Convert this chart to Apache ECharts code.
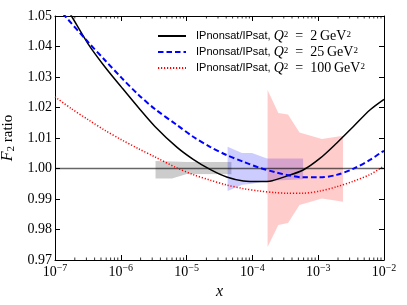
<!DOCTYPE html>
<html>
<head>
<meta charset="utf-8">
<script src="https://cdn.jsdelivr.net/npm/echarts@6/dist/echarts.min.js"></script>
<style>html,body{margin:0;padding:0;background:#fff}#c{width:407px;height:305px}</style>
</head>
<body>
<div id="c"></div>
<script>
// ---- data ----
const blackX = [1.26e-7, 1.78e-7, 3.2e-7, 5.75e-7, 1.03e-6, 1.85e-6, 3.3e-6, 7.1e-6, 1.26e-5, 2.27e-5, 4.06e-5, 7.3e-5, 1.3e-4, 2.0e-4, 3.3e-4, 5.9e-4, 1.06e-3, 1.9e-3, 3.4e-3, 6.1e-3, 1e-2];
const blackY = [1.0553, 1.0500, 1.0408, 1.0333, 1.0266, 1.0200, 1.0138, 1.0070, 1.0030, 0.9997, 0.9972, 0.9959, 0.9957, 0.9960, 0.9975, 0.9995, 1.0033, 1.0083, 1.0137, 1.0192, 1.0227];
const blueX = [1.1e-7, 1.42e-7, 3.2e-7, 5.75e-7, 1.03e-6, 1.85e-6, 3.3e-6, 7.1e-6, 1.26e-5, 2.27e-5, 4.06e-5, 7.3e-5, 1.3e-4, 2.2e-4, 3.3e-4, 5.9e-4, 1.06e-3, 1.9e-3, 3.4e-3, 6.1e-3, 8.7e-3, 1e-2];
const blueY = [1.0530, 1.0500, 1.0414, 1.0355, 1.0297, 1.0242, 1.0195, 1.0143, 1.0104, 1.0071, 1.0044, 1.0022, 1.0002, 0.9988, 0.9979, 0.9971, 0.9971, 0.9979, 0.9999, 1.0028, 1.0050, 1.0058];
const redX = [1e-7, 1.78e-7, 3.2e-7, 5.75e-7, 1.03e-6, 1.85e-6, 3.3e-6, 7.1e-6, 1.26e-5, 2.27e-5, 4.06e-5, 7.3e-5, 1.3e-4, 2.2e-4, 3.3e-4, 5.9e-4, 1.06e-3, 1.9e-3, 3.4e-3, 6.1e-3, 8.7e-3, 1e-2];
const redY = [1.0235, 1.0196, 1.0160, 1.0125, 1.0094, 1.0065, 1.0038, 1.0002, 0.9980, 0.9962, 0.9946, 0.9934, 0.9926, 0.9921, 0.9919, 0.9919, 0.9926, 0.9940, 0.9958, 0.9980, 1.0000, 1.0008];

const grayBandX = [3.37e-6, 6.0e-6, 1.01e-5, 4.8e-5];
const grayBandLo = [0.9967, 0.9967, 0.9982, 0.9981];
const grayBandHi = [1.0025, 1.0023, 1.0021, 1.0021];
const blueBandX = [4.2e-5, 6.95e-5, 9.86e-5, 1.67e-4, 5.9e-4];
const blueBandLo = [0.9926, 0.9947, 0.9950, 0.9959, 0.9965];
const blueBandHi = [1.0071, 1.0051, 1.0051, 1.0033, 1.0033];
const redBandX = [1.70e-4, 2.48e-4, 3.48e-4, 5.2e-4, 1.14e-3, 2.38e-3];
const redBandLo = [0.9743, 0.9815, 0.9821, 0.9880, 0.9902, 0.9891];
const redBandHi = [1.0257, 1.0182, 1.0177, 1.0118, 1.0097, 1.0107];

const refX = [1e-7, 1e-2];
const refY = [1.0, 1.0];

const seriesNames = ['IPnonsat/IPsat, Q^2 = 2 GeV^2', 'IPnonsat/IPsat, Q^2 = 25 GeV^2', 'IPnonsat/IPsat, Q^2 = 100 GeV^2'];
const qValues = ['2', '25', '100'];
const minorTicks = [];
[1e-7, 1e-6, 1e-5, 1e-4, 1e-3].forEach(d => { [2,3,4,5,6,7,8,9].forEach(m => minorTicks.push(+(m * d).toPrecision(3))); });

const X_MIN = 1e-7, X_MAX = 1e-2, Y_MIN = 0.97, Y_MAX = 1.05;
const SERIF = '"Liberation Serif", "DejaVu Serif", serif';

function zip(xs, ys) { return xs.map((x, i) => [x, ys[i]]); }

function band(xs, lo, hi, color) {
  return {
    type: 'custom', silent: true, z: 1, clip: true,
    data: xs.map((x, i) => [x, lo[i], hi[i]]),
    encode: { x: 0, y: [1, 2] },
    renderItem: function (params, api) {
      if (params.dataIndex !== 0) return;
      const pts = [];
      for (let i = 0; i < xs.length; i++) pts.push(api.coord([xs[i], lo[i]]));
      for (let i = xs.length - 1; i >= 0; i--) pts.push(api.coord([xs[i], hi[i]]));
      return { type: 'polygon', shape: { points: pts }, style: { fill: color } };
    }
  };
}

const chart = echarts.init(document.getElementById('c'), null, { renderer: 'canvas' });

const axisCommon = {
  axisLine: { show: true, onZero: false, lineStyle: { color: '#000', width: 1 } },
  axisTick: { show: true, inside: true, length: 5, lineStyle: { color: '#000', width: 1 } },
  splitLine: { show: false }
};

chart.setOption({
  animation: false,
  backgroundColor: '#fff',
  grid: { left: 55, right: 23, top: 16, bottom: 45, containLabel: false, outerBoundsMode: 'none' },
  legend: {
    data: seriesNames,
    orient: 'vertical',
    left: 157, top: 29, padding: 0,
    itemWidth: 28, itemHeight: 10, itemGap: 2,
    itemStyle: { opacity: 0 },
    formatter: function (name) {
      const q = qValues[seriesNames.indexOf(name)];
      return '{a|IPnonsat/IPsat, }{q|Q}{s|2}{m|\u2002=\u2002' + q + '\u2009GeV}{s|2}';
    },
    textStyle: {
      padding: [0, 0, 0, 5],
      rich: {
        a: { fontFamily: '"Liberation Sans", Arial, sans-serif', fontSize: 11, color: '#000', lineHeight: 12 },
        q: { fontFamily: SERIF, fontStyle: 'italic', fontSize: 14, color: '#000', lineHeight: 12 },
        m: { fontFamily: SERIF, fontSize: 14, color: '#000', lineHeight: 12 },
        s: { fontFamily: SERIF, fontSize: 9, color: '#000', lineHeight: 8, verticalAlign: 'top' }
      }
    }
  },
  xAxis: [
    Object.assign({}, axisCommon, {
      type: 'log', logBase: 10, min: X_MIN, max: X_MAX, splitNumber: 5, position: 'bottom',
      name: 'x', nameLocation: 'middle', nameGap: 17,
      nameTextStyle: { fontFamily: SERIF, fontStyle: 'italic', fontSize: 16, color: '#000' },
      axisLabel: {
        margin: 3,
        formatter: function (v) { const e = Math.round(Math.log10(v)); return '{b|10}{s|' + (e < 0 ? '\u2212' : '') + Math.abs(e) + '}'; },
        rich: {
          b: { fontFamily: SERIF, fontSize: 14, color: '#000', lineHeight: 18 },
          s: { fontFamily: SERIF, fontSize: 10, color: '#000', lineHeight: 10, verticalAlign: 'top' }
        }
      }
    }),
    Object.assign({}, axisCommon, {
      type: 'log', logBase: 10, min: X_MIN, max: X_MAX, splitNumber: 5, position: 'top',
      axisLabel: { show: false }
    })
  ],
  yAxis: [
    Object.assign({}, axisCommon, {
      type: 'value', min: Y_MIN, max: Y_MAX, interval: 0.01, position: 'left',
      name: '{i|F}{sub|2}{r| ratio}', nameLocation: 'middle', nameGap: 35, nameRotate: 90,
      nameTextStyle: {
        rich: {
          i: { fontFamily: SERIF, fontStyle: 'italic', fontSize: 16, color: '#000', lineHeight: 18 },
          sub: { fontFamily: SERIF, fontSize: 11, color: '#000', lineHeight: 12, verticalAlign: 'bottom' },
          r: { fontFamily: SERIF, fontSize: 15, color: '#000', lineHeight: 18 }
        }
      },
      axisLabel: { margin: 3, fontFamily: SERIF, fontSize: 14, color: '#000', formatter: v => v.toFixed(2) }
    }),
    Object.assign({}, axisCommon, {
      type: 'value', min: Y_MIN, max: Y_MAX, interval: 0.01, position: 'right',
      axisLabel: { show: false }
    })
  ],
  series: [
    band(grayBandX, grayBandLo, grayBandHi, 'rgba(0,0,0,0.2)'),
    band(blueBandX, blueBandLo, blueBandHi, 'rgba(0,0,255,0.2)'),
    band(redBandX, redBandLo, redBandHi, 'rgba(255,0,0,0.2)'),
    {
      type: 'line', name: 'ref', data: zip(refX, refY), symbol: 'none', silent: true, z: 2,
      lineStyle: { color: 'rgba(0,0,0,0.6)', width: 1.5 }
    },
    {
      type: 'custom', silent: true, z: 4, clip: false,
      data: minorTicks.map(v => [v, Y_MIN]),
      encode: { x: 0, y: 1 },
      renderItem: function (params, api) {
        const v = api.value(0);
        const b = api.coord([v, Y_MIN]);
        const t = api.coord([v, Y_MAX]);
        return { type: 'group', children: [
          { type: 'line', shape: { x1: b[0], y1: b[1], x2: b[0], y2: b[1] - 2.5 }, style: { stroke: '#000', lineWidth: 0.8 } },
          { type: 'line', shape: { x1: t[0], y1: t[1], x2: t[0], y2: t[1] + 2.5 }, style: { stroke: '#000', lineWidth: 0.8 } }
        ] };
      }
    },
    {
      type: 'line', name: seriesNames[0], data: zip(blackX, blackY), symbol: 'none', smooth: 0.3, z: 3, clip: true,
      itemStyle: { color: '#000' }, lineStyle: { color: '#000', width: 1.5, type: 'solid' }
    },
    {
      type: 'line', name: seriesNames[1], data: zip(blueX, blueY), symbol: 'none', smooth: 0.3, z: 3, clip: true,
      itemStyle: { color: '#0000ff' }, lineStyle: { color: '#0000ff', width: 2, type: [5.5, 3] }
    },
    {
      type: 'line', name: seriesNames[2], data: zip(redX, redY), symbol: 'none', smooth: 0.3, z: 3, clip: true,
      itemStyle: { color: '#ff0000' }, lineStyle: { color: '#ff0000', width: 1.5, type: [1.2, 1.8] }
    }
  ]
});
</script>
</body>
</html>
